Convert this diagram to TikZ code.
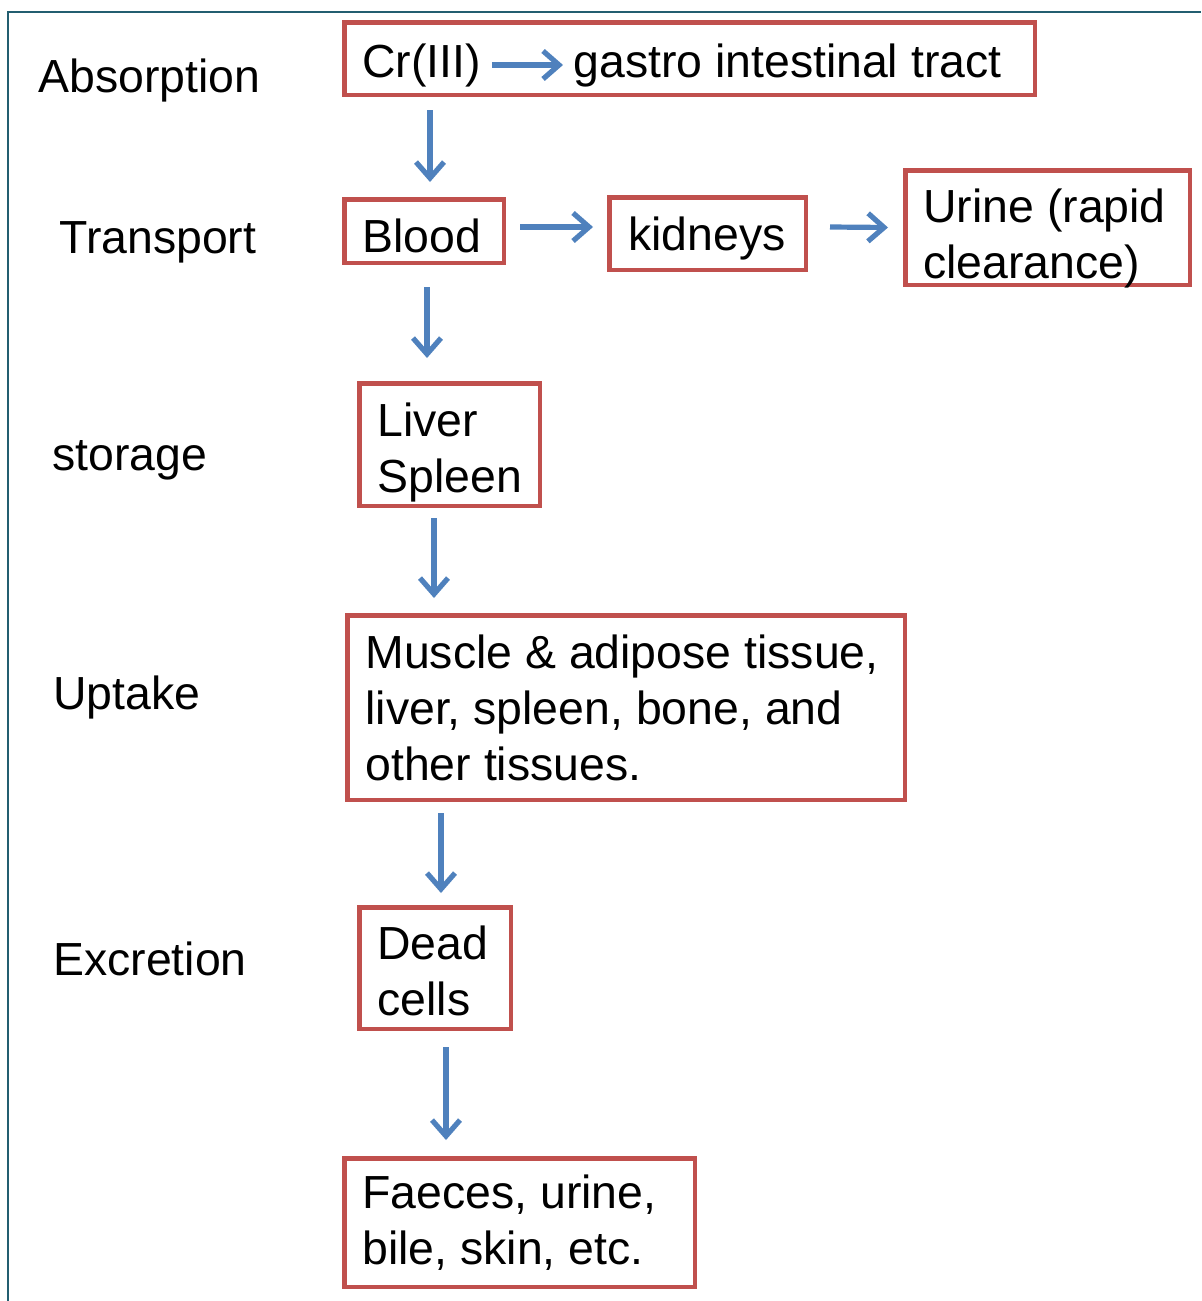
\documentclass[tikz,border=0pt]{standalone}
\usepackage{fontspec}
\setmainfont{Liberation Sans}
\usetikzlibrary{arrows.meta}
\definecolor{boxred}{RGB}{192,80,77}
\definecolor{flowblue}{RGB}{79,129,189}
\definecolor{frameteal}{RGB}{35,94,112}

\begin{document}
\begin{tikzpicture}[x=0.5pt, y=-0.5pt,
  every node/.style={font=\fontsize{23.2}{28}\selectfont, inner sep=0pt},
  box/.style={draw=boxred, line width=2.25pt, anchor=north west},
  txt/.style={anchor=base west, align=left},
  flow/.style={draw=flowblue, line width=2.6pt, -{Straight Barb[length=8pt,width=14pt]}}]
  \useasboundingbox (0,0) rectangle (1201,1301);
  % Frame
  \draw[frameteal, line width=1pt] (8,1301) -- (8,12) -- (1201,12);

  % Stage names
  \node[txt] (absorb) at (38,92) {Absorption};
  \node[txt] (transp) at (59,253) {Transport};
  \node[txt] (store) at (52,470) {storage};
  \node[txt] (uptk) at (53,709) {Uptake};
  \node[txt] (excr) at (53,975) {Excretion};

  % Boxes
  \node[box, minimum width=345.25pt, minimum height=36.25pt] (cr) at (342,20) {};
  \node[box, minimum width=79.75pt, minimum height=31.75pt] (blood) at (342,197) {};
  \node[box, minimum width=98.25pt, minimum height=36.25pt] (kidney) at (607,195) {};
  \node[box, minimum width=142.25pt, minimum height=57.25pt] (urine) at (903,168) {};
  \node[box, minimum width=90.25pt, minimum height=61.25pt] (liver) at (357,381) {};
  \node[box, minimum width=278.75pt, minimum height=92.25pt] (tissue) at (345,613) {};
  \node[box, minimum width=75.75pt, minimum height=60.75pt] (dead) at (357,905) {};
  \node[box, minimum width=175.25pt, minimum height=64.25pt] (faeces) at (342,1156) {};

  % Box texts (base = last line)
  \node[txt] (tcr) at (362,77) {Cr(III)};
  \node[txt] (tgut) at (573,77) {gastro intestinal tract};
  \node[txt] (tblood) at (362,252) {Blood};
  \node[txt] (tkidney) at (628,250) {kidneys};
  \node[txt] (turine) at (923,278) {Urine (rapid\\clearance)};
  \node[txt] (tliver) at (377,492) {Liver\\Spleen};
  \node[txt] (ttissue) at (365,780) {Muscle \& adipose tissue,\\liver, spleen, bone, and\\other tissues.};
  \node[txt] (tdead) at (377,1015) {Dead\\cells};
  \node[txt] (tfaeces) at (362,1264) {Faeces, urine,\\bile, skin, etc.};

  % Flow arrows
  \draw[flow, shorten <=5.25pt, shorten >=5pt] (tcr.east) -- (tgut.west |- tcr.east);
  \draw[flow] ([xshift=7pt, yshift=2pt]blood.east) -- ([xshift=-7pt, yshift=3.25pt]kidney.west);
  \draw[flow] ([xshift=11pt, yshift=3.25pt]kidney.east) -- ([xshift=-7.5pt]urine.west);
  \foreach \a/\b/\xa/\ya/\xb/\yb in {cr/blood/44/6.5/44/7.5, blood/liver/42.5/11/35/11.5,
      liver/tissue/38.5/5/44.5/7.5, tissue/dead/48/5.5/42/6, dead/faeces/44.5/8/52/8}
    \draw[flow] ([xshift=\xa pt, yshift=-\ya pt]\a.south west)
      -- ([xshift=\xb pt, yshift=\yb pt]\b.north west);
\end{tikzpicture}
\end{document}
